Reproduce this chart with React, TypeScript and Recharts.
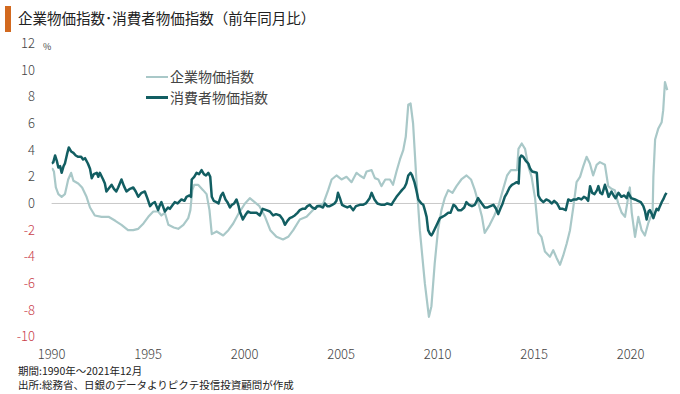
import React from "react";
import { LineChart, Line, XAxis, YAxis, ReferenceLine } from "recharts";

// [年(小数), 前年同月比 %]
const ppiPoints: [number, number][] = [
  [1990.0, 2.6], [1990.05, 2.6], [1990.12, 2.4], [1990.22, 1.2], [1990.35, 0.7],
  [1990.52, 0.5], [1990.69, 0.7], [1990.86, 1.8], [1991.01, 2.3], [1991.13, 1.7],
  [1991.38, 1.5], [1991.58, 1.2], [1991.81, 0.5], [1991.99, -0.3], [1992.24, -0.9],
  [1992.59, -1.0], [1992.95, -1.0], [1993.3, -1.3], [1993.62, -1.6], [1993.96, -2.0],
  [1994.23, -2.0], [1994.49, -1.9], [1994.76, -1.5], [1995.01, -1.0], [1995.27, -0.6],
  [1995.52, -0.6], [1995.69, -0.9], [1995.87, -0.7], [1996.05, -1.6], [1996.33, -1.8],
  [1996.56, -1.9], [1996.83, -1.6], [1997.08, -1.1], [1997.19, -0.5], [1997.29, 1.0],
  [1997.39, 1.4], [1997.59, 1.4], [1997.85, 1.0], [1998.03, 0.7], [1998.18, -0.5],
  [1998.3, -2.3], [1998.55, -2.1], [1998.89, -2.4], [1999.16, -2.0], [1999.41, -1.5],
  [1999.71, -0.7], [2000.02, 0.0], [2000.27, 0.4], [2000.52, 0.1], [2000.77, -0.2],
  [2001.06, -1.0], [2001.33, -2.0], [2001.65, -2.5], [2001.99, -2.7], [2002.26, -2.5],
  [2002.52, -2.0], [2002.86, -1.2], [2003.21, -1.0], [2003.47, -0.6], [2003.73, -0.2],
  [2004.08, 0.0], [2004.33, 1.0], [2004.51, 1.8], [2004.76, 2.1], [2005.02, 1.8],
  [2005.28, 2.0], [2005.54, 1.6], [2005.8, 2.3], [2005.97, 2.1], [2006.18, 1.9],
  [2006.32, 2.4], [2006.58, 2.5], [2006.75, 1.9], [2006.93, 1.8], [2007.09, 1.3],
  [2007.29, 1.8], [2007.53, 1.8], [2007.69, 1.4], [2007.87, 2.4], [2008.05, 3.3],
  [2008.22, 4.0], [2008.35, 5.0], [2008.48, 7.4], [2008.6, 7.5], [2008.73, 6.0],
  [2008.9, 1.8], [2009.08, -2.0], [2009.34, -6.0], [2009.55, -8.5], [2009.68, -7.7],
  [2009.85, -4.5], [2010.02, -2.0], [2010.2, -0.5], [2010.37, 0.4], [2010.55, 1.0],
  [2010.77, 0.8], [2010.98, 1.3], [2011.23, 1.8], [2011.5, 2.1], [2011.73, 1.8],
  [2011.93, 1.0], [2012.12, 0.0], [2012.3, -1.0], [2012.44, -2.2], [2012.7, -1.6],
  [2012.94, -0.9], [2013.17, -0.1], [2013.38, 1.0], [2013.6, 2.1], [2013.8, 2.5],
  [2014.02, 2.5], [2014.12, 2.5], [2014.19, 4.1], [2014.36, 4.5], [2014.53, 4.1],
  [2014.7, 2.8], [2014.87, 2.0], [2015.05, 0.4], [2015.22, -2.2], [2015.38, -2.5],
  [2015.56, -3.6], [2015.82, -4.0], [2015.99, -3.5], [2016.17, -4.1], [2016.34, -4.6],
  [2016.51, -3.9], [2016.69, -3.0], [2016.86, -2.0], [2017.04, -0.2], [2017.2, 1.6],
  [2017.38, 2.0], [2017.55, 2.8], [2017.72, 3.5], [2017.89, 3.0], [2018.06, 2.1],
  [2018.24, 2.9], [2018.41, 3.1], [2018.67, 2.9], [2018.84, 1.3], [2019.01, 1.1],
  [2019.18, 1.0], [2019.36, 0.0], [2019.54, -0.7], [2019.71, -1.0], [2019.88, 0.5],
  [2019.96, 1.2], [2020.06, -0.7], [2020.23, -2.5], [2020.4, -1.0], [2020.57, -2.0],
  [2020.74, -2.4], [2020.91, -1.5], [2021.04, -1.0], [2021.14, -0.8], [2021.18, 2.0],
  [2021.27, 4.8], [2021.43, 5.6], [2021.61, 6.1], [2021.69, 7.0], [2021.78, 9.1],
  [2021.9, 8.5],
];

const cpiPoints: [number, number][] = [
  [1990.0, 3.0], [1990.09, 3.1], [1990.18, 3.6], [1990.27, 3.2], [1990.35, 2.7],
  [1990.44, 2.8], [1990.52, 2.3], [1990.62, 2.8], [1990.69, 3.0], [1990.8, 3.7],
  [1990.89, 4.2], [1991.01, 3.9], [1991.13, 3.8], [1991.25, 3.6], [1991.38, 3.5],
  [1991.53, 3.5], [1991.63, 3.3], [1991.73, 3.4], [1991.88, 3.0], [1991.99, 2.6],
  [1992.08, 1.9], [1992.19, 2.2], [1992.34, 2.3], [1992.42, 2.0], [1992.5, 2.3],
  [1992.67, 1.8], [1992.76, 1.5], [1992.84, 0.9], [1993.0, 1.2], [1993.11, 1.4],
  [1993.23, 1.1], [1993.35, 0.9], [1993.45, 1.2], [1993.62, 1.8], [1993.75, 1.3],
  [1993.88, 0.9], [1994.06, 1.1], [1994.23, 1.2], [1994.36, 0.9], [1994.49, 0.5],
  [1994.66, 0.8], [1994.83, 0.9], [1994.96, 0.4], [1995.1, -0.2], [1995.22, 0.0],
  [1995.35, 0.1], [1995.52, -0.5], [1995.59, -0.2], [1995.69, 0.1], [1995.87, -0.6],
  [1996.03, -0.3], [1996.13, -0.4], [1996.28, -0.1], [1996.38, 0.1], [1996.53, 0.0],
  [1996.73, 0.3], [1996.88, 0.2], [1996.99, 0.5], [1997.14, 0.6], [1997.22, 0.5],
  [1997.26, 1.8], [1997.39, 2.0], [1997.51, 2.3], [1997.64, 2.2], [1997.77, 2.5],
  [1997.89, 2.2], [1998.0, 2.1], [1998.12, 2.3], [1998.22, 2.0], [1998.3, 0.5],
  [1998.4, 0.2], [1998.55, 0.1], [1998.65, 0.0], [1998.78, 0.6], [1998.88, 0.8],
  [1999.01, 0.3], [1999.11, 0.1], [1999.24, -0.3], [1999.34, -0.1], [1999.46, 0.0],
  [1999.58, 0.3], [1999.69, -0.2], [1999.75, -0.6], [1999.91, -1.2], [2000.07, -0.8],
  [2000.17, -0.6], [2000.32, -0.7], [2000.45, -0.7], [2000.62, -0.7], [2000.79, -0.9],
  [2000.94, -0.4], [2001.13, -0.5], [2001.31, -0.6], [2001.48, -0.9], [2001.63, -0.8],
  [2001.83, -0.9], [2001.98, -1.2], [2002.09, -1.6], [2002.22, -1.3], [2002.34, -1.1],
  [2002.49, -1.0], [2002.6, -0.9], [2002.74, -0.7], [2002.86, -0.5], [2002.99, -0.4],
  [2003.13, -0.4], [2003.25, -0.2], [2003.38, -0.1], [2003.5, -0.3], [2003.65, -0.4],
  [2003.77, -0.2], [2003.9, -0.2], [2004.06, -0.3], [2004.16, 0.0], [2004.28, -0.2],
  [2004.41, -0.2], [2004.54, -0.1], [2004.66, 0.0], [2004.76, 0.2], [2004.84, 0.8],
  [2004.94, 0.4], [2005.05, -0.1], [2005.17, -0.2], [2005.32, -0.3], [2005.47, -0.2],
  [2005.63, -0.5], [2005.77, -0.2], [2005.97, -0.1], [2006.13, -0.1], [2006.28, 0.0],
  [2006.48, 0.4], [2006.58, 0.8], [2006.73, 0.3], [2006.88, 0.0], [2007.09, -0.1],
  [2007.24, -0.1], [2007.39, 0.0], [2007.61, -0.1], [2007.69, 0.1], [2007.87, 0.5],
  [2008.04, 0.8], [2008.15, 1.0], [2008.28, 1.2], [2008.38, 1.5], [2008.48, 2.1],
  [2008.6, 2.3], [2008.68, 2.1], [2008.8, 1.6], [2008.9, 1.0], [2009.0, 0.3],
  [2009.16, 0.0], [2009.26, -0.1], [2009.34, -0.5], [2009.43, -1.0], [2009.51, -2.0],
  [2009.61, -2.3], [2009.68, -2.4], [2009.76, -2.2], [2009.86, -1.9], [2009.99, -1.5],
  [2010.12, -1.1], [2010.24, -1.0], [2010.37, -0.9], [2010.55, -0.7], [2010.67, -0.7],
  [2010.82, -0.1], [2010.92, -0.2], [2011.06, -0.5], [2011.23, -0.5], [2011.38, -0.3],
  [2011.49, 0.1], [2011.63, -0.1], [2011.78, -0.2], [2011.93, -0.1], [2012.1, 0.4],
  [2012.19, 0.2], [2012.29, 0.0], [2012.44, -0.3], [2012.59, -0.3], [2012.74, -0.2],
  [2012.89, -0.1], [2013.03, -0.4], [2013.14, -0.8], [2013.25, -0.4], [2013.37, 0.0],
  [2013.48, 0.5], [2013.6, 0.8], [2013.73, 1.2], [2013.85, 1.4], [2013.98, 1.5],
  [2014.1, 1.6], [2014.2, 1.5], [2014.26, 3.4], [2014.34, 3.6], [2014.44, 3.5],
  [2014.57, 3.2], [2014.7, 3.0], [2014.8, 2.6], [2014.9, 2.4], [2015.14, 2.3],
  [2015.22, 0.6], [2015.33, 0.3], [2015.48, 0.1], [2015.63, 0.3], [2015.78, 0.2],
  [2015.91, 0.0], [2016.04, 0.2], [2016.19, 0.0], [2016.34, -0.4], [2016.49, -0.4],
  [2016.64, -0.5], [2016.77, 0.3], [2016.91, 0.2], [2017.05, 0.3], [2017.2, 0.3],
  [2017.3, 0.4], [2017.45, 0.3], [2017.58, 0.5], [2017.7, 0.4], [2017.8, 0.2],
  [2017.9, 1.3], [2018.01, 0.8], [2018.13, 0.7], [2018.26, 1.0], [2018.33, 1.3],
  [2018.43, 0.8], [2018.53, 0.7], [2018.67, 1.4], [2018.76, 1.0], [2018.86, 0.5],
  [2019.01, 0.9], [2019.12, 0.6], [2019.22, 0.4], [2019.37, 0.8], [2019.52, 0.5],
  [2019.67, 0.6], [2019.8, 0.4], [2019.88, 0.8], [2020.03, 0.4], [2020.23, 0.3],
  [2020.38, 0.2], [2020.53, 0.1], [2020.66, -0.2], [2020.75, -0.6], [2020.83, -1.2],
  [2020.93, -0.6], [2021.0, -0.5], [2021.1, -0.8], [2021.18, -1.1], [2021.27, -0.7],
  [2021.35, -0.4], [2021.44, -0.5], [2021.52, -0.2], [2021.61, 0.1], [2021.69, 0.3],
  [2021.78, 0.6], [2021.86, 0.8],
];

const yearTicks = [1990, 1995, 2000, 2005, 2010, 2015, 2020];
const pctTicks = [12, 10, 8, 6, 4, 2, 0, -2, -4, -6, -8, -10];

const seriesNames = ["企業物価指数", "消費者物価指数"];
const title = "企業物価指数･消費者物価指数（前年同月比）";
const notes = ["期間:1990年〜2021年12月", "出所:総務省、日銀のデータよりピクテ投信投資顧問が作成"];

const PPI_COLOR = "#a9c8c8";
const CPI_COLOR = "#125e62";
const font = '"Noto Sans CJK JP", "Noto Sans", sans-serif';

const ppiData = ppiPoints.map(([t, v]) => ({ t, v }));
const cpiData = cpiPoints.map(([t, v]) => ({ t, v }));

const YTick = (props: any) => {
  const v = props.payload.value;
  return (
    <text x={35} y={props.y} dy={4.5} textAnchor="end" fontSize={13}
      fontFamily={font} fontWeight={300} fill={v < 0 ? "#c9404a" : "#444"}>
      {v}
    </text>
  );
};

const XTick = (props: any) => (
  <text x={props.x} y={358.5} textAnchor="middle" fontSize={13}
    fontFamily={font} fontWeight={300} fill="#444">
    {props.payload.value}
  </text>
);

export default function App() {
  return (
    <div style={{ position: "absolute", left: 0, top: 0, width: 680, height: 394, background: "#fff", fontFamily: font }}>
      <div style={{ position: "absolute", left: 5, top: 6, width: 6, height: 26, background: "#d2691f" }} />
      <div style={{ position: "absolute", left: 18, top: 7, fontSize: 14.5, color: "#222", whiteSpace: "nowrap", lineHeight: "22px" }}>
        {title}
      </div>

      <LineChart width={680} height={394} data={ppiData}
        margin={{ top: 43.5, right: 10.8, bottom: 37.2, left: 11.6 }}>
        <XAxis dataKey="t" type="number" domain={[1990, 2022]} ticks={yearTicks}
          axisLine={false} tickLine={false} height={20} tick={<XTick />} allowDataOverflow />
        <YAxis type="number" domain={[-10, 12]} ticks={pctTicks} width={40}
          axisLine={false} tickLine={false} tick={<YTick />} interval={0} />
        <ReferenceLine y={0} stroke="#c9c9c9" strokeWidth={1} />
        <Line data={ppiData} dataKey="v" type="linear" stroke={PPI_COLOR} strokeWidth={2.2}
          dot={false} isAnimationActive={false} strokeLinejoin="round" />
        <Line data={cpiData} dataKey="v" type="linear" stroke={CPI_COLOR} strokeWidth={2.5}
          dot={false} isAnimationActive={false} strokeLinejoin="round" />
      </LineChart>

      <div style={{ position: "absolute", left: 43, top: 40, fontSize: 9, color: "#444" }}>%</div>

      <div style={{ position: "absolute", left: 146, top: 66, fontSize: 14, color: "#444", lineHeight: "21px" }}>
        {seriesNames.map((name, i) => (
          <div key={name} style={{ display: "flex", alignItems: "center", whiteSpace: "nowrap" }}>
            <span style={{ display: "inline-block", width: 22, height: i === 0 ? 2 : 3, background: i === 0 ? PPI_COLOR : CPI_COLOR, marginRight: 2 }} />
            {name}
          </div>
        ))}
      </div>

      <div style={{ position: "absolute", left: 18, top: 364, fontSize: 10.5, color: "#222", lineHeight: "14px", whiteSpace: "nowrap" }}>
        {notes.map((n) => <div key={n}>{n}</div>)}
      </div>
    </div>
  );
}
